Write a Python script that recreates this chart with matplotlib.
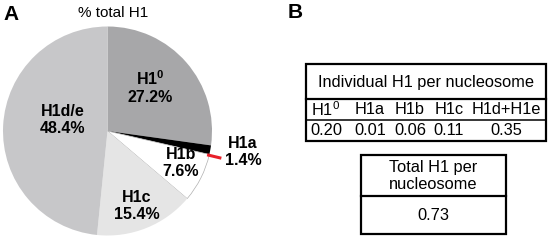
import numpy as np
import matplotlib.pyplot as plt
from matplotlib.patches import Rectangle

plt.rcParams["font.family"] = ["Liberation Sans", "DejaVu Sans"]
plt.rcParams["mathtext.fontset"] = "custom"
plt.rcParams["mathtext.rm"] = "Liberation Sans"
plt.rcParams["mathtext.bf"] = "Liberation Sans:bold"

# panel A data
pie_labels = ["H1$^{\\mathbf{0}}$", "H1a", "H1b", "H1c", "H1d/e"]
pie_shares = [27.2, 1.4, 7.6, 15.4, 48.4]
pie_colors = ["#a7a7a9", "#000000", "#ffffff", "#e5e5e5", "#c7c7c9"]

# panel B data
variant_names = ["H1$^{0}$", "H1a", "H1b", "H1c", "H1d+H1e"]
per_nucleosome = [0.20, 0.01, 0.06, 0.11, 0.35]
total_per_nucleosome = 0.73

W, H = 550, 242


def Y(y):
    # pixel row (from top) -> data y
    return H - y


fig = plt.figure(figsize=(5.5, 2.42), dpi=100)
ax = fig.add_axes([0, 0, 1, 1])

cx, cy, r = 107.5, Y(131), 104.5
wedges, _ = ax.pie(
    pie_shares,
    colors=pie_colors,
    startangle=90,
    counterclock=False,
    center=(cx, cy),
    radius=r,
    wedgeprops=dict(linewidth=0),
)
wedges[2].set_edgecolor("#b0b0b0")
wedges[2].set_linewidth(0.5)

# red pointer for the thin H1a slice
w = wedges[1]
mid = np.deg2rad((w.theta1 + w.theta2) / 2 - 3)
ax.plot(
    [cx + 0.98 * r * np.cos(mid), cx + 1.12 * r * np.cos(mid)],
    [cy + 0.98 * r * np.sin(mid), cy + 1.12 * r * np.sin(mid)],
    color="#e8202a",
    lw=2.2,
    solid_capstyle="butt",
)

# (x, y, line spacing) for each pie label, in pixels from the top-left
label_pos = [(150, 87, 1.15), (243, 152, 1.1), (181, 163, 1.1), (137, 206, 1.1), (63, 120, 1.2)]
for name, share, (lx, ly, ls) in zip(pie_labels, pie_shares, label_pos):
    ax.text(lx, Y(ly), f"{name}\n{share:.1f}%", ha="center", va="center",
            fontsize=11.5, fontweight="bold", linespacing=ls)

ax.text(113, Y(13), "% total H1", ha="center", va="center", fontsize=11)
ax.text(11, Y(14), "A", ha="center", va="center", fontsize=15, fontweight="bold")
ax.text(295, Y(13), "B", ha="center", va="center", fontsize=15, fontweight="bold")

# table 1: individual H1 per nucleosome
x0, x1, t0, t1 = 306, 546, 63.5, 141
ax.add_patch(Rectangle((x0, Y(t1)), x1 - x0, t1 - t0, fill=False, lw=1.6, ec="black"))
ax.plot([x0, x1], [Y(99), Y(99)], color="black", lw=1.6)
ax.plot([x0, x1], [Y(119.5), Y(119.5)], color="black", lw=1.1)
ax.text((x0 + x1) / 2, Y(82), "Individual H1 per nucleosome", ha="center",
        va="center", fontsize=11.8)
col_x = [326, 370, 410, 449, 506]
for xc, name, val in zip(col_x, variant_names, per_nucleosome):
    ax.text(xc, Y(109.5), name, ha="center", va="center", fontsize=11.8)
    ax.text(xc, Y(130.5), f"{val:.2f}", ha="center", va="center", fontsize=11.8)

# table 2: total H1 per nucleosome
x0, x1, t0, t1 = 361, 506, 155, 234
ax.add_patch(Rectangle((x0, Y(t1)), x1 - x0, t1 - t0, fill=False, lw=1.6, ec="black"))
ax.plot([x0, x1], [Y(196), Y(196)], color="black", lw=1.6)
ax.text((x0 + x1) / 2, Y(176), "Total H1 per\nnucleosome", ha="center",
        va="center", fontsize=11.8, linespacing=1.1)
ax.text((x0 + x1) / 2, Y(215), f"{total_per_nucleosome:.2f}", ha="center",
        va="center", fontsize=11.8)

ax.set_xlim(0, W)
ax.set_ylim(0, H)
ax.set_aspect("auto")
ax.axis("off")

fig.savefig("out.png", dpi=100)
